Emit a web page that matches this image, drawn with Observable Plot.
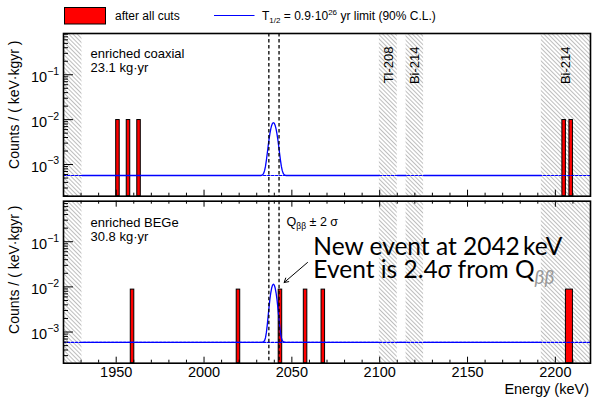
<!DOCTYPE html>
<html><head><meta charset="utf-8">
<script src="https://cdn.jsdelivr.net/npm/d3@7"></script>
<script src="https://cdn.jsdelivr.net/npm/@observablehq/plot@0.6"></script>
<style>
body{margin:0;background:#fff;}
#root{position:relative;width:592px;height:397px;overflow:hidden;font-family:"Liberation Sans",Arial,sans-serif;}
#root > svg{position:absolute;left:0;}
</style></head><body><div id="root"></div>
<script>
// ---------------- data ----------------
const xDomain = [1920, 2220];
const xMajorTicks = [1950, 2000, 2050, 2100, 2150, 2200];
const xMinorTicks = [1930, 1940, 1960, 1970, 1980, 1990, 2010, 2020, 2030, 2040, 2060, 2070, 2080, 2090, 2110, 2120, 2130, 2140, 2160, 2170, 2180, 2190, 2210];
const yMajorTicks = [0.001, 0.01, 0.1];
const yMajorExponents = ["\u22123", "\u22122", "\u22121"];
const yMinorTicks = [0.0002, 0.0003, 0.0004, 0.0005, 0.0006, 0.0007, 0.0008, 0.0009,
  0.002, 0.003, 0.004, 0.005, 0.006, 0.007, 0.008, 0.009,
  0.02, 0.03, 0.04, 0.05, 0.06, 0.07, 0.08, 0.09,
  0.2, 0.3, 0.4, 0.5, 0.6, 0.7, 0.8, 0.9];
const vetoBands = [[1920, 1930.5], [2099.8, 2110], [2115, 2125], [2192, 2220]];
const vetoLabels = ["Tl-208", "Bi-214", "Bi-214"];
const vetoLabelEnergies = [2105, 2120, 2206];
const qbbBand = [2036.9, 2042.7];

const panelNames = ["enriched coaxial", "enriched BEGe"];
const panelExposures = ["23.1 kg\u00b7yr", "30.8 kg\u00b7yr"];

const coaxBins = [[1950, 1952], [1956, 1958], [1962, 1964], [2204, 2206], [2208, 2210]];
const coaxEventRate = 0.0098;
const begeBins = [[1958.3, 1960.3], [2018.6, 2020.6], [2042.5, 2044.5], [2056.8, 2058.8], [2066.9, 2068.9], [2206, 2210]];
const begeEventRate = 0.0087;

const coaxBackground = 0.00057;
const begeBackground = 0.00059;
const coaxPeakE = [2032.5, 2033.5, 2034, 2034.5, 2035, 2035.5, 2036, 2036.5, 2037, 2037.5, 2038, 2038.5, 2039, 2039.5, 2040, 2040.5, 2041, 2041.5, 2042, 2042.5, 2043, 2043.5, 2044, 2044.5, 2045, 2045.5, 2046.5];
const coaxPeakRate = [0.00057, 0.00060, 0.000645, 0.00074, 0.00092, 0.00125, 0.00178, 0.00256, 0.00362, 0.00489, 0.00622, 0.00743, 0.00827, 0.00857, 0.00827, 0.00743, 0.00622, 0.00489, 0.00362, 0.00256, 0.00178, 0.00125, 0.00092, 0.00074, 0.000645, 0.00060, 0.00057];
const begePeakE = [2033, 2034, 2034.5, 2035, 2035.5, 2036, 2036.5, 2037, 2037.5, 2038, 2038.5, 2039, 2039.5, 2040, 2040.5, 2041, 2041.5, 2042, 2042.5, 2043, 2043.5, 2044, 2044.5, 2045, 2046];
const begePeakRate = [0.00059, 0.00061, 0.00065, 0.00075, 0.00098, 0.00144, 0.00227, 0.00356, 0.00533, 0.00741, 0.00944, 0.01094, 0.01149, 0.01094, 0.00944, 0.00741, 0.00533, 0.00356, 0.00227, 0.00144, 0.00098, 0.00075, 0.00065, 0.00061, 0.00059];

const legendLabels = ["after all cuts", "T", "1/2", " = 0.9\u00b710", "26", " yr limit (90% C.L.)"];
const yTitle = "Counts / ( keV\u00b7kgyr )";
const xTitle = "Energy (keV)";

// ---------------- drawing ----------------
const root = document.getElementById("root");
const FONT = "'Liberation Sans', Arial, sans-serif";
const BLUE = "#0000ff";

// hatch pattern
const defsSvg = d3.select(root).append("svg").attr("width", 0).attr("height", 0).style("position", "absolute");
const pat = defsSvg.append("defs").append("pattern").attr("id", "hatch")
  .attr("patternUnits", "userSpaceOnUse").attr("width", 3).attr("height", 10)
  .attr("patternTransform", "rotate(-45)");
pat.append("line").attr("x1", 0.5).attr("y1", 0).attr("x2", 0.5).attr("y2", 10)
  .attr("stroke", "#a8a8a8").attr("stroke-width", 0.75);

// fit windows = complement of veto bands
const windows = [];
for (let i = 0; i < vetoBands.length - 1; i++) windows.push([vetoBands[i][1], vetoBands[i + 1][0]]);

function curveData(bg, peakE, peakRate) {
  const pts = [];
  windows.forEach((w, wi) => {
    pts.push({e: w[0], r: bg, w: wi});
    peakE.forEach((e, i) => { if (e > w[0] && e < w[1]) pts.push({e, r: peakRate[i], w: wi}); });
    pts.push({e: w[1], r: bg, w: wi});
  });
  return pts;
}

function panel(cfg) {
  const plotW = 592 - 63 - 2;
  const plotH = cfg.height - cfg.mt - cfg.mb;
  const inDom = v => v >= cfg.yDomain[0] && v <= cfg.yDomain[1];
  const marks = [
    Plot.rect(vetoBands, {x1: d => d[0], x2: d => d[1], y1: cfg.yDomain[0], y2: cfg.yDomain[1], fill: "url(#hatch)"}),
    Plot.rect(cfg.bins, {x1: d => d[0], x2: d => d[1], y1: cfg.yDomain[0], y2: cfg.rate, fill: "#ff0000", stroke: "black", strokeWidth: 1}),
    Plot.line([xDomain[0], xDomain[1]], {x: d => d, y: () => cfg.bg, stroke: BLUE, strokeWidth: 1.2, strokeDasharray: "2.5,1.5"}),
    Plot.line(curveData(cfg.bg, cfg.peakE, cfg.peakRate), {x: "e", y: "r", z: "w", stroke: BLUE, strokeWidth: 1.3}),
    Plot.ruleX(qbbBand, {stroke: "black", strokeWidth: 1.3, strokeDasharray: "3.5,2.5"}),
    Plot.tickY(yMajorTicks.filter(inDom), {y: d => d, stroke: "black", strokeWidth: 1, insetRight: plotW - 10}),
    Plot.tickY(yMinorTicks.filter(inDom), {y: d => d, stroke: "black", strokeWidth: 1, insetRight: plotW - 5}),
    Plot.tickX(xMajorTicks, {x: d => d, stroke: "black", strokeWidth: 1, insetTop: plotH - 6}),
    Plot.tickX(xMinorTicks, {x: d => d, stroke: "black", strokeWidth: 1, insetTop: plotH - 3}),
    Plot.frame({stroke: "black", strokeWidth: 1.6}),
    Plot.text(yMajorTicks.filter(inDom), {x: xDomain[0], y: d => d, text: () => "10", textAnchor: "end", lineAnchor: "middle", dx: -16.3, dy: 2.5, fontSize: 14.5}),
    Plot.text(yMajorTicks.filter(inDom), {x: xDomain[0], y: d => d, text: d => yMajorExponents[yMajorTicks.indexOf(d)], textAnchor: "start", lineAnchor: "middle", dx: -16.3, dy: -3.5, fontSize: 10.5}),
    Plot.text([yTitle], {text: d => d, frameAnchor: "top-left", rotate: -90, textAnchor: "end", lineAnchor: "middle", dx: -49, dy: cfg.titleDy, fontSize: 14}),
    Plot.text([panelNames[cfg.idx]], {text: d => d, frameAnchor: "top-left", textAnchor: "start", lineAnchor: "bottom", dx: 27, dy: cfg.nameDy, fontSize: 13}),
    Plot.text([panelExposures[cfg.idx]], {text: d => d, frameAnchor: "top-left", textAnchor: "start", lineAnchor: "bottom", dx: 27, dy: cfg.nameDy + 14, fontSize: 13})
  ];
  if (cfg.idx === 0) {
    marks.push(Plot.text(vetoLabels, {x: (d, i) => vetoLabelEnergies[i], frameAnchor: "top", text: d => d, rotate: -90, textAnchor: "end", lineAnchor: "middle", dy: 13, fontSize: 13}));
  } else {
    marks.push(Plot.tickX(xMajorTicks, {x: d => d, stroke: "black", strokeWidth: 1, insetBottom: plotH - 6}));
    marks.push(Plot.tickX(xMinorTicks, {x: d => d, stroke: "black", strokeWidth: 1, insetBottom: plotH - 3}));
    marks.push(Plot.axisX(xMajorTicks, {tickSize: 0, tickPadding: 4, fontSize: 14.5, label: null, tickFormat: d => String(d)}));
    marks.push(Plot.text([xTitle], {text: d => d, frameAnchor: "bottom-right", textAnchor: "end", lineAnchor: "bottom", dx: -1.5, dy: 30.6, fontSize: 14.5}));
    marks.push(Plot.arrow([0], {x1: 2058.9, y1: 0.0347, x2: 2045.6, y2: 0.0125, stroke: "black", strokeWidth: 1, headLength: 7, bend: 0}));
  }
  const plot = Plot.plot({
    width: 592, height: cfg.height,
    marginLeft: 63, marginRight: 2, marginTop: cfg.mt, marginBottom: cfg.mb,
    x: {domain: xDomain, axis: null},
    y: {type: "log", domain: cfg.yDomain, axis: null},
    style: {fontFamily: FONT, fontSize: "14px", color: "black", background: "transparent", overflow: "visible"},
    marks
  });
  plot.style.top = cfg.top + "px";
  root.appendChild(plot);
  return plot;
}

const topPanel = panel({idx: 0, top: 0, height: 198, mt: 33, mb: 2.3, yDomain: [1.97e-4, 0.83],
  bins: coaxBins, rate: coaxEventRate, bg: coaxBackground, peakE: coaxPeakE, peakRate: coaxPeakRate, titleDy: 7, nameDy: 24.3});
const botPanel = panel({idx: 1, top: 198, height: 199, mt: 2.7, mb: 34.3, yDomain: [2.04e-4, 0.79],
  bins: begeBins, rate: begeEventRate, bg: begeBackground, peakE: begePeakE, peakRate: begePeakRate, titleDy: 4.3, nameDy: 26});

// annotations in the bottom panel, placed through the plot's own scales
{
  const sx = botPanel.scale("x"), sy = botPanel.scale("y");
  const g = d3.select(botPanel).append("g").attr("fill", "black").attr("text-anchor", "start");
  const q = g.append("text").attr("x", sx.apply(2047.3)).attr("y", sy.apply(0.22))
    .attr("font-family", FONT).attr("font-size", 12.5);
  q.append("tspan").text("Q");
  q.append("tspan").attr("font-size", 8.5).attr("dy", 3).text("\u03b2\u03b2");
  q.append("tspan").attr("dy", -3).text(" \u00b1 2 \u03c3");
  const big = "Lato, 'Open Sans', sans-serif";
  g.append("text").attr("x", sx.apply(2062.5)).attr("y", sy.apply(0.0508))
    .attr("font-family", big).attr("font-size", 24.5).text("New event at 2042\u2009keV");
  const t2 = g.append("text").attr("x", sx.apply(2062.5)).attr("y", sy.apply(0.0153))
    .attr("font-family", big).attr("font-size", 24.5);
  t2.append("tspan").text("Event is 2.4");
  t2.append("tspan").attr("font-style", "italic").text("\u03c3");
  t2.append("tspan").text(" from Q");
  t2.append("tspan").attr("font-size", 19).attr("dy", 6).attr("font-style", "italic").attr("fill", "#999").text("\u03b2\u03b2");
}

// legend
{
  const lg = d3.select(root).append("svg").attr("width", 592).attr("height", 30).style("top", "0px");
  lg.append("rect").attr("x", 64.5).attr("y", 7.5).attr("width", 41).attr("height", 16.5).attr("fill", "#ff0000").attr("stroke", "black");
  lg.append("text").attr("x", 115).attr("y", 20).attr("font-family", FONT).attr("font-size", 12).text(legendLabels[0]);
  lg.append("line").attr("x1", 214).attr("x2", 254.5).attr("y1", 15.5).attr("y2", 15.5).attr("stroke", BLUE).attr("stroke-width", 1);
  const t = lg.append("text").attr("x", 262).attr("y", 20).attr("font-family", FONT).attr("font-size", 12);
  t.append("tspan").text(legendLabels[1]);
  t.append("tspan").attr("font-size", 8).attr("dy", 2.5).text(legendLabels[2]);
  t.append("tspan").attr("dy", -2.5).text(legendLabels[3]);
  t.append("tspan").attr("font-size", 8).attr("dy", -5).text(legendLabels[4]);
  t.append("tspan").attr("dy", 5).text(legendLabels[5]);
}
</script></body></html>
